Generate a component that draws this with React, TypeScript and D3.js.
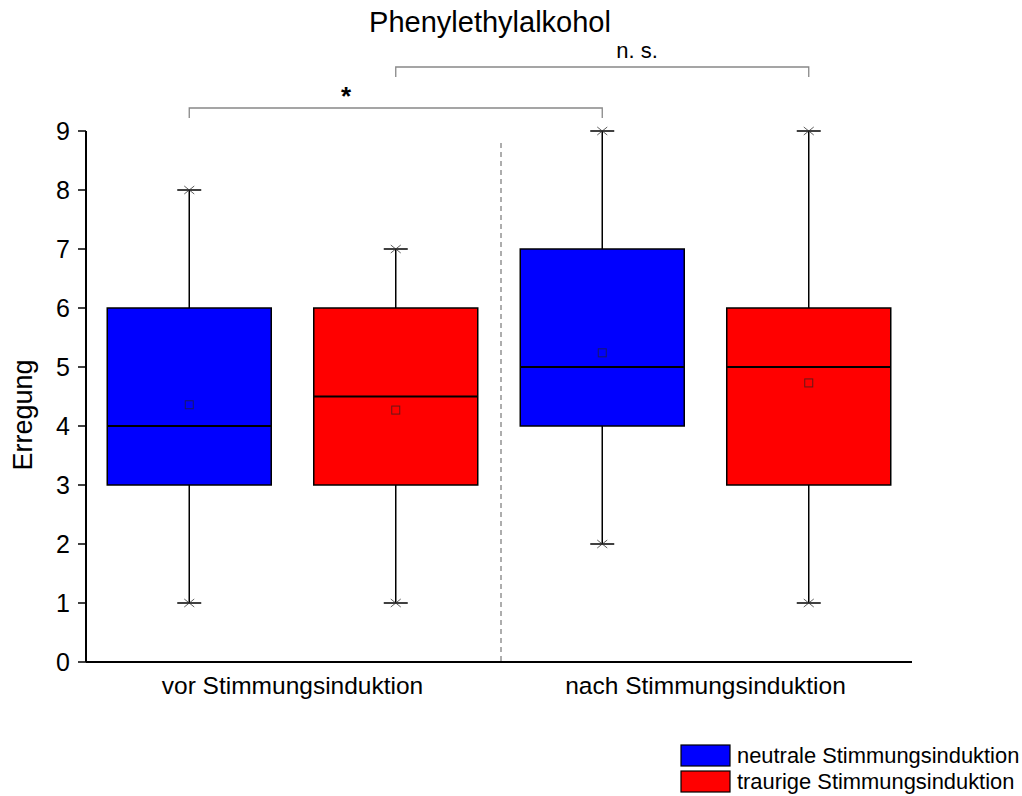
import React from "react";
import * as d3 from "d3";

const groups = ["vor Stimmungsinduktion", "nach Stimmungsinduktion"];
const series = ["neutrale Stimmungsinduktion", "traurige Stimmungsinduktion"];
const colors = ["#0000FF", "#FF0000"];
// per box: [group, series]
const boxGroup = [0, 0, 1, 1];
const boxSeries = [0, 1, 0, 1];
const mins = [1, 1, 2, 1];
const q1s = [3, 3, 4, 3];
const medians = [4, 4.5, 5, 5];
const q3s = [6, 6, 7, 6];
const maxs = [8, 7, 9, 9];
const means = [4.36, 4.27, 5.24, 4.73];
const yTicks = [0, 1, 2, 3, 4, 5, 6, 7, 8, 9];
const brackets = [
  { from: 0, to: 2, label: "*", level: 0 },
  { from: 1, to: 3, label: "n. s.", level: 1 },
];

const FONT = "'Liberation Sans', Arial, sans-serif";

export default function App() {
  const W = 1022, H = 796;
  const x0 = 86, x1 = 912, yTop = 131, yBot = 662;
  const y = d3.scaleLinear().domain([0, 9]).range([yBot, yTop]);
  const xg = d3.scaleBand().domain(groups).range([x0, x1]).paddingInner(0).paddingOuter(0);
  const xs = d3.scaleBand().domain(series).range([0, xg.bandwidth()]).paddingInner(0.2058).paddingOuter(0.1029);
  const boxX = (i: number) => (xg(groups[boxGroup[i]]) as number) + (xs(series[boxSeries[i]]) as number);
  const bw = xs.bandwidth();
  const cx = (i: number) => boxX(i) + bw / 2;
  const capW = 12;
  const bracketY = [108, 67];
  const divX = (xg(groups[1]) as number) + 2;

  return (
    <svg width={W} height={H} style={{ position: "absolute", left: 0, top: 0 }} fontFamily={FONT}>
      <rect width={W} height={H} fill="#fff" />
      <text x={490} y={32} fontSize={29} textAnchor="middle">Phenylethylalkohol</text>
      {/* divider */}
      <line x1={divX} x2={divX} y1={143} y2={yBot} stroke="#777" strokeDasharray="5,4" strokeWidth={1.2} />
      {/* boxes */}
      {mins.map((_, i) => (
        <g key={i}>
          <line x1={cx(i)} x2={cx(i)} y1={y(maxs[i])} y2={y(q3s[i])} stroke="#000" strokeWidth={1.5} />
          <line x1={cx(i)} x2={cx(i)} y1={y(q1s[i])} y2={y(mins[i])} stroke="#000" strokeWidth={1.5} />
          {[maxs[i], mins[i]].map((v, k) => (
            <g key={k}>
              <line x1={cx(i) - capW} x2={cx(i) + capW} y1={y(v)} y2={y(v)} stroke="#000" strokeWidth={1.5} />
              <path d={`M${cx(i) - 5},${y(v) - 4}L${cx(i) + 5},${y(v) + 4}M${cx(i) - 5},${y(v) + 4}L${cx(i) + 5},${y(v) - 4}`} stroke="#333" strokeWidth={0.8} />
            </g>
          ))}
          <rect x={boxX(i)} y={y(q3s[i])} width={bw} height={y(q1s[i]) - y(q3s[i])} fill={colors[boxSeries[i]]} stroke="#000" strokeWidth={1.5} />
          <line x1={boxX(i)} x2={boxX(i) + bw} y1={y(medians[i])} y2={y(medians[i])} stroke="#000" strokeWidth={2} />
          <rect x={cx(i) - 4} y={y(means[i]) - 4} width={8} height={8} fill="none" stroke="#222" strokeWidth={1} opacity={0.7} />
        </g>
      ))}
      {/* axes */}
      <line x1={x0} x2={x1} y1={yBot} y2={yBot} stroke="#000" strokeWidth={2} />
      <line x1={x0} x2={x0} y1={yTop} y2={yBot} stroke="#000" strokeWidth={2} />
      {yTicks.map((t) => (
        <g key={t}>
          <line x1={x0 - 8} x2={x0} y1={y(t)} y2={y(t)} stroke="#000" strokeWidth={1.5} />
          <text x={70} y={y(t) + 9} fontSize={25} textAnchor="end">{t}</text>
        </g>
      ))}
      <text transform={`translate(32,${415}) rotate(-90)`} fontSize={27} textAnchor="middle">Erregung</text>
      {groups.map((g, i) => (
        <text key={g} x={(cx(i * 2) + cx(i * 2 + 1)) / 2} y={694} fontSize={24.5} textAnchor="middle">{g}</text>
      ))}
      {/* brackets */}
      {brackets.map((b, i) => {
        const by = bracketY[b.level];
        const xa = cx(b.from), xb = cx(b.to);
        const star = b.label === "*";
        return (
          <g key={i}>
            <path d={`M${xa},${by + 10}V${by}H${xb}V${by + 10}`} fill="none" stroke="#888" strokeWidth={1.3} />
            <text x={star ? 346 : 637} y={star ? by - 3 : by - 9} fontSize={star ? 26 : 22} fontWeight={star ? "bold" : "normal"} textAnchor="middle">{b.label}</text>
          </g>
        );
      })}
      {/* legend */}
      {series.map((s, i) => (
        <g key={s}>
          <rect x={681} y={745 + i * 26} width={49} height={21} fill={colors[i]} stroke="#000" strokeWidth={1.2} />
          <text x={737} y={763 + i * 26} fontSize={21.9}>{s}</text>
        </g>
      ))}
    </svg>
  );
}
